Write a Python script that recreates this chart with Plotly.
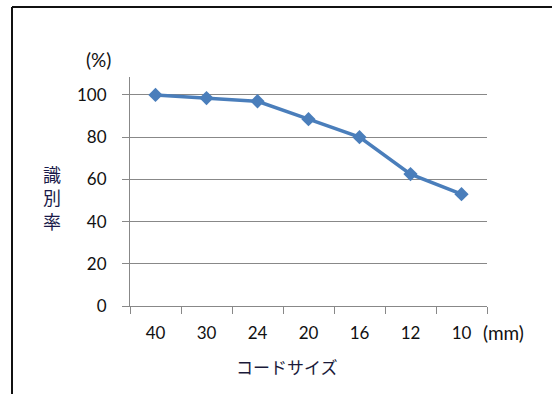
import plotly.graph_objects as go

# Recognition rate by code size
sizes = ["40", "30", "24", "20", "16", "12", "10"]
rates = [100, 98.5, 97, 88.5, 80, 62.5, 53]
y_ticks = [0, 20, 40, 60, 80, 100]

W, H = 552, 394
L, R, T, B = 130, 487, 77, 306  # plot area in pixels
pw, ph = R - L, B - T


def px(x):
    return (x - L) / pw


def py(y):
    return (B - y) / ph


FONT = "Lato, 'Noto Sans CJK JP', sans-serif"
JP = "'Noto Sans CJK JP', sans-serif"
GRID = "#888888"


def label(text, x, y, size, family=FONT, color="#111111"):
    return dict(text=text, xref="paper", yref="paper", x=px(x), y=py(y),
                xanchor="center", yanchor="middle", showarrow=False,
                font=dict(family=family, size=size, color=color))


fig = go.Figure(
    go.Scatter(
        x=sizes,
        y=rates,
        mode="lines+markers",
        line=dict(color="#4a7ebb", width=3.5),
        marker=dict(symbol="diamond", size=11, color="#4a7ebb"),
        cliponaxis=False,
    )
)

fig.update_layout(
    width=W,
    height=H,
    margin=dict(l=L, r=W - R, t=T, b=H - B, pad=0),
    paper_bgcolor="white",
    plot_bgcolor="white",
    showlegend=False,
    font=dict(family=FONT, size=17, color="#111111"),
    xaxis=dict(
        type="category",
        range=[-0.5, 6.5],
        showgrid=False,
        showline=True,
        linecolor=GRID,
        linewidth=1,
        ticks="outside",
        tickson="boundaries",
        ticklen=7,
        tickcolor=GRID,
        tickfont=dict(size=17),
        ticklabelstandoff=12,
        zeroline=False,
    ),
    yaxis=dict(
        range=[0, 108.5],
        tickvals=y_ticks,
        showgrid=True,
        gridcolor=GRID,
        gridwidth=1,
        showline=True,
        linecolor=GRID,
        linewidth=1,
        ticks="outside",
        ticklen=7,
        tickcolor=GRID,
        tickfont=dict(size=17),
        ticklabelstandoff=12,
        zeroline=False,
    ),
    shapes=[
        dict(type="line", xref="paper", yref="paper",
             x0=px(12), x1=px(560), y0=py(7), y1=py(7),
             line=dict(color="#111111", width=2)),
        dict(type="line", xref="paper", yref="paper",
             x0=px(12), x1=px(12), y0=py(7), y1=py(400),
             line=dict(color="#111111", width=2)),
    ],
    annotations=[
        label("(%)", 98, 60, 19),
        label("(mm)", 503, 332, 19),
        label("コードサイズ", 287, 366, 17, JP, "#1a1a3a"),
        label("識<br>別<br>率", 52, 197, 18, JP, "#1a1a4a"),
    ],
)

fig.write_html("out.html")
